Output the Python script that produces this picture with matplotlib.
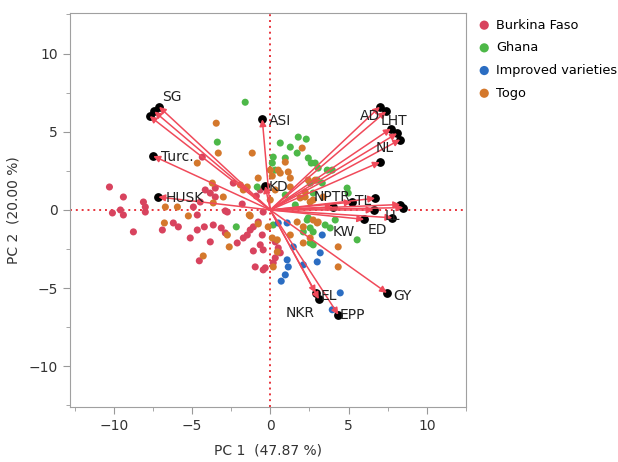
import numpy as np
import matplotlib.pyplot as plt

# scores (PC1, PC2) per group
bf_x = [-10.27, -9.38, -9.57, -9.38, -8.74, -8.10, -7.98, -7.98, -6.89, -6.19, -5.87, -5.11, -4.66, -4.21,
        -3.64, -3.13, -2.87, -3.83, -4.53, -2.11, -1.72, -1.47, -1.28, -1.08, -0.77, -0.51, -0.64, -1.08,
        -0.96, -0.45, 0.19, 0.32, -4.91, -4.47, -4.15, -3.83, -3.51, -2.87, -2.36, -1.79, -0.45, 0.32,
        0.51, 0.64, -0.32, -0.45, -4.34, -0.64, -3.51, -2.74, -4.66, -10.08, -0.89]
bf_y = [1.47, 0.83, 0.00, -0.32, -1.40, 0.51, 0.19, -0.13, -1.28, -0.83, -1.08, -1.79, -1.28, -1.08,
        -0.96, -1.15, -1.47, -2.04, -3.25, -2.11, -1.79, -1.60, -1.28, -1.08, -0.77, -1.60, -2.23, -2.62,
        -3.64, -3.83, -3.38, -3.06, 0.19, 0.51, 1.28, 1.08, 1.40, -0.06, 1.72, 0.38, -0.13, -2.04,
        -2.43, -2.74, -3.70, -2.55, 3.38, 1.28, 0.83, -0.13, -0.32, -0.19, 0.89]

gh_x = [-1.60, -3.38, 0.64, 1.79, 2.30, 1.28, 1.72, 0.19, 0.13, 2.43, 2.62, 0.96, 0.32, 3.00, 3.32, 3.64,
        -0.83, 2.87, 3.06, 3.96, 2.55, 2.74, 4.91, 4.98, 2.36, 2.55, 0.19, 2.43, 2.74, 2.74, 3.51, 3.83,
        5.55, 4.15, -2.17, 2.11, 2.55, 1.60, 0.96]
gh_y = [6.89, 4.34, 4.28, 4.66, 4.53, 4.02, 3.64, 3.38, 3.00, 3.32, 3.00, 3.32, 2.55, 1.91, 1.72, 2.55,
        1.47, 3.00, 2.68, 2.55, 1.72, 1.08, 1.40, 1.08, -0.64, -1.15, -0.96, -0.51, -1.40, -2.23, -0.96,
        -1.15, -1.91, -0.64, -1.08, -1.40, -2.11, 0.32, 0.96]

iv_x = [0.51, 1.47, 2.11, 3.32, 3.19, 3.00, 1.08, 1.15, 0.96, 0.70, 4.47, 3.96, 1.08]
iv_y = [-0.83, -2.36, -3.51, -1.60, -2.74, -3.32, -3.19, -3.64, -4.15, -4.55, -5.30, -6.38, -0.83]

tg_x = [-3.45, -3.32, -1.15, 0.96, 0.51, 0.00, 0.13, 0.64, 1.15, 1.28, 1.28, -0.77, -3.00, -1.72, 0.32,
        0.00, 1.91, 2.23, 2.55, -6.70, -6.76, -5.93, -5.23, -3.70, -3.64, -1.91, -1.34, -0.77, -2.62,
        -4.28, -1.28, 0.45, 0.45, -2.74, 1.72, 1.28, 2.11, 2.74, 3.06, 2.55, 4.34, 4.34, 0.19, -0.13,
        2.04, 2.43, 2.87, 2.23, 2.74, 3.38, 2.11, 3.00, 0.13, -4.66, -1.47]
tg_y = [5.55, 3.64, 3.64, 3.06, 2.55, 2.55, 2.17, 2.36, 2.43, 2.04, 1.47, 2.04, 0.83, 1.28, 1.28,
        0.64, 0.77, 1.15, 0.51, 0.19, -0.83, 0.19, -0.38, 1.72, 0.45, 1.60, -0.32, -0.89, -2.36,
        -2.94, -0.38, -1.91, -2.68, -1.60, -0.77, -1.60, -2.11, -0.64, -0.77, -1.79, -2.36, -3.64, -3.64, -1.08,
        3.96, 1.91, 1.91, 0.83, 0.64, 0.83, -1.08, -0.83, -1.79, 3.00, 1.47]

# loading vectors
vec_x = [-7.7, -7.4, -7.1, -7.47, -7.15, -0.51, -0.32, 7.0, 7.4, 7.7, 8.1, 8.3, 7.0,
         4.0, 5.2, 6.7, 6.6, 8.3, 8.5, 7.8, 6.0, 7.45, 2.9, 3.1, 4.35]
vec_y = [6.0, 6.3, 6.6, 3.45, 0.83, 5.8, 1.53, 6.6, 6.3, 5.2, 4.9, 4.5, 3.06,
         0.2, 0.5, 0.75, 0.0, 0.35, 0.15, -0.5, -0.6, -5.3, -5.3, -5.7, -6.7]

var_names = ['SG', 'Turc.', 'HUSK', 'ASI', 'KD', 'AD', 'LHT', 'NL', 'NPTR', 'TL', 'LL',
             'ED', 'KW', 'GY', 'EL', 'NKR', 'EPP']
name_x = [-6.9, -7.0, -6.7, -0.1, -0.1, 5.7, 7.05, 6.7, 2.75, 5.4, 7.3, 6.25, 4.0, 7.85, 3.2, 0.95, 4.45]
name_y = [7.2, 3.4, 0.75, 5.7, 1.5, 6.0, 5.7, 3.95, 0.8, 0.6, -0.4, -1.3, -1.4, -5.5, -5.5, -6.6, -6.7]

groups = ['Burkina Faso', 'Ghana', 'Improved varieties', 'Togo']
colors = ['#d8435e', '#4db848', '#2b6dc2', '#d4782c']

fig = plt.figure(figsize=(6.18, 4.62), dpi=100)
ax = fig.add_axes([0.113, 0.119, 0.641, 0.853])

ax.axhline(0, color='#e8343c', ls=(0, (1, 2)), lw=1.4, zorder=1)
ax.axvline(0, color='#e8343c', ls=(0, (1, 2)), lw=1.4, zorder=1)

for gx, gy, lab, c in zip([bf_x, gh_x, iv_x, tg_x], [bf_y, gh_y, iv_y, tg_y], groups, colors):
    ax.scatter(gx, gy, s=26, color=c, label=lab, edgecolors='none', zorder=2)

ax.scatter(vec_x, vec_y, s=28, color='black', zorder=3)
for vx, vy in zip(vec_x, vec_y):
    ax.annotate('', xy=(vx, vy), xytext=(0, 0),
                arrowprops=dict(arrowstyle='-|>', color='#f04a5a', lw=1.1,
                                mutation_scale=10, shrinkA=0, shrinkB=0),
                zorder=4)

for n, tx, ty in zip(var_names, name_x, name_y):
    ax.text(tx, ty, n, fontsize=10, color='#222222', va='center', ha='left', zorder=5)

ax.set_xlim(-12.8, 12.5)
ax.set_ylim(-12.6, 12.6)
ax.set_xticks([-10, -5, 0, 5, 10])
ax.set_yticks([-10, -5, 0, 5, 10])
ax.set_xticks(np.arange(-12.5, 12.6, 2.5), minor=True)
ax.set_yticks(np.arange(-12.5, 12.6, 2.5), minor=True)
ax.tick_params(which='both', color='#999999', labelsize=10, labelcolor='#333333')
ax.tick_params(which='major', length=5)
ax.tick_params(which='minor', length=3)
ax.tick_params(top=False, right=False, which='both')
for s in ax.spines.values():
    s.set_color('#a0a0a0')

ax.set_xlabel('PC 1  (47.87 %)', fontsize=10, color='#333333', labelpad=8)
ax.set_ylabel('PC 2  (20.00 %)', fontsize=10, color='#333333', labelpad=6)

fig.legend(loc='upper left', bbox_to_anchor=(0.748, 0.985), frameon=False, fontsize=9.3,
           handletextpad=0.1, handlelength=1.6, labelspacing=0.75, markerscale=1.3)

fig.savefig('out.png', dpi=100)
